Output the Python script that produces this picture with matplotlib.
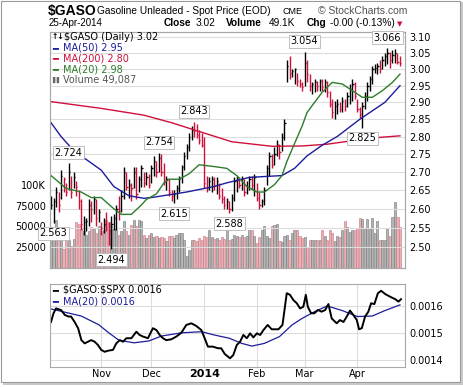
import matplotlib.pyplot as plt
import numpy as np
from matplotlib.ticker import FixedLocator, FormatStrFormatter, NullLocator
from matplotlib.patches import Rectangle

plt.rcParams['text.parse_math'] = False

# ---- data (trading-day index 0 = 4-Oct-2013 ... 139 = 25-Apr-2014) ----
high = [2.635, 2.630, 2.660, 2.645, 2.705, 2.685, 2.670, 2.724, 2.690, 2.700,
        2.675, 2.650, 2.625, 2.580, 2.575, 2.625, 2.620, 2.635, 2.625, 2.600,
        2.565, 2.575, 2.590, 2.565, 2.580, 2.585, 2.610, 2.635, 2.650, 2.715,
        2.700, 2.680, 2.670, 2.715, 2.715, 2.690, 2.720, 2.700, 2.700, 2.695,
        2.720, 2.745, 2.730, 2.754, 2.750, 2.725, 2.690, 2.680, 2.650, 2.650,
        2.665, 2.690, 2.720, 2.755, 2.780, 2.810, 2.830, 2.843, 2.835, 2.820,
        2.810, 2.800, 2.690, 2.685, 2.690, 2.685, 2.685, 2.670, 2.655, 2.635,
        2.630, 2.620, 2.640, 2.685, 2.690, 2.685, 2.690, 2.680, 2.675, 2.690,
        2.690, 2.695, 2.670, 2.645, 2.625, 2.660, 2.720, 2.755, 2.750, 2.770,
        2.790, 2.780, 2.810, 2.850, 3.030, 3.040, 3.000, 3.005, 2.990, 2.970,
        2.960, 3.054, 3.030, 2.985, 2.960, 2.970, 2.965, 2.970, 2.970, 2.970,
        2.965, 2.935, 2.910, 2.905, 2.910, 2.900, 2.915, 2.910, 2.930, 2.955,
        2.970, 2.960, 2.910, 2.885, 2.900, 2.930, 2.960, 2.980, 3.010, 3.015,
        3.020, 3.030, 3.040, 3.050, 3.066, 3.055, 3.060, 3.062, 3.050, 3.040]
low = [2.600, 2.563, 2.605, 2.590, 2.625, 2.645, 2.635, 2.650, 2.630, 2.655,
       2.635, 2.600, 2.545, 2.530, 2.540, 2.555, 2.565, 2.585, 2.555, 2.565,
       2.530, 2.535, 2.540, 2.505, 2.494, 2.545, 2.545, 2.570, 2.590, 2.625,
       2.650, 2.630, 2.620, 2.655, 2.625, 2.645, 2.660, 2.660, 2.665, 2.655,
       2.670, 2.690, 2.685, 2.700, 2.690, 2.665, 2.650, 2.635, 2.620, 2.615,
       2.625, 2.645, 2.670, 2.705, 2.735, 2.760, 2.790, 2.800, 2.795, 2.780,
       2.770, 2.655, 2.645, 2.650, 2.645, 2.650, 2.640, 2.625, 2.615, 2.600,
       2.600, 2.588, 2.595, 2.620, 2.645, 2.655, 2.650, 2.635, 2.640, 2.650,
       2.650, 2.635, 2.620, 2.600, 2.605, 2.610, 2.665, 2.690, 2.710, 2.720,
       2.745, 2.735, 2.760, 2.790, 2.960, 2.970, 2.975, 2.955, 2.950, 2.945,
       2.935, 2.950, 2.960, 2.935, 2.925, 2.930, 2.935, 2.935, 2.935, 2.930,
       2.915, 2.885, 2.855, 2.850, 2.865, 2.870, 2.870, 2.875, 2.885, 2.895,
       2.905, 2.910, 2.870, 2.855, 2.825, 2.880, 2.905, 2.935, 2.955, 2.990,
       2.985, 2.990, 3.000, 3.010, 3.015, 3.005, 3.020, 3.020, 3.015, 3.010]
close = [2.610, 2.620, 2.645, 2.610, 2.690, 2.680, 2.645, 2.700, 2.645, 2.685,
         2.660, 2.620, 2.560, 2.565, 2.568, 2.610, 2.600, 2.625, 2.575, 2.590,
         2.550, 2.560, 2.550, 2.540, 2.560, 2.575, 2.600, 2.595, 2.635, 2.700,
         2.660, 2.665, 2.655, 2.700, 2.640, 2.680, 2.710, 2.670, 2.685, 2.665,
         2.710, 2.730, 2.700, 2.740, 2.700, 2.675, 2.680, 2.645, 2.635, 2.640,
         2.655, 2.680, 2.715, 2.745, 2.770, 2.800, 2.820, 2.815, 2.805, 2.790,
         2.775, 2.670, 2.655, 2.675, 2.680, 2.665, 2.675, 2.635, 2.625, 2.610,
         2.620, 2.600, 2.630, 2.675, 2.680, 2.665, 2.680, 2.645, 2.660, 2.680,
         2.665, 2.685, 2.630, 2.610, 2.620, 2.650, 2.710, 2.745, 2.720, 2.750,
         2.775, 2.755, 2.800, 2.840, 3.010, 2.990, 2.995, 3.000, 2.965, 2.955,
         2.945, 3.020, 2.985, 2.950, 2.955, 2.960, 2.950, 2.965, 2.945, 2.960,
         2.930, 2.895, 2.870, 2.890, 2.895, 2.880, 2.905, 2.890, 2.920, 2.940,
         2.955, 2.920, 2.880, 2.865, 2.890, 2.920, 2.950, 2.970, 3.000, 3.005,
         3.010, 3.000, 3.030, 3.040, 3.050, 3.030, 3.045, 3.050, 3.024, 3.020]
volume_k = [47, 36, 58, 38, 32, 23, 42, 34, 26, 35, 55, 53, 48, 44, 40, 44, 49, 47, 42, 51,
            44, 46, 58, 55, 50, 48, 46, 40, 44, 57, 45, 40, 52, 58, 50, 58, 57, 40, 36, 40,
            42, 37, 38, 36, 37, 36, 32, 38, 38, 36, 40, 42, 42, 34, 14, 22, 34, 34, 32, 36,
            34, 38, 37, 46, 37, 35, 36, 34, 37, 35, 46, 34, 35, 40,
            38, 37, 40, 37, 38, 46, 46, 38, 30, 37, 46, 51, 38, 36, 51, 52, 53, 32, 31, 38,
            40, 34, 42, 46, 46, 38, 36, 37, 24, 34, 34, 34, 34, 34, 46, 38, 34, 46, 42, 32,
            38, 37, 46, 56, 49, 43, 46, 46, 47, 60, 59, 47, 59, 47, 60, 42, 56, 34, 34, 34,
            47, 38, 61, 79, 61, 49.087]

ma200_x = [0, 20, 37, 48, 61, 72, 88, 100, 110, 120, 130, 139]
ma200 = [2.902, 2.882, 2.862, 2.840, 2.810, 2.785, 2.772, 2.773, 2.778, 2.788, 2.797, 2.802]
ma50_x = [0, 4, 9, 15, 20, 25, 31, 37, 40, 54, 65, 70, 79, 92, 97, 102, 108, 114, 123, 133, 139]
ma50 = [2.840, 2.800, 2.760, 2.730, 2.705, 2.660, 2.635, 2.628, 2.630, 2.645, 2.660, 2.670,
        2.685, 2.690, 2.710, 2.745, 2.775, 2.800, 2.850, 2.900, 2.950]
ma20_x = [0, 6, 12, 16, 20, 25, 28, 32, 36, 38, 42, 45, 47, 51, 55, 59, 65, 70, 74, 78,
          82, 85, 89, 92, 94, 97, 100, 102, 105, 108, 112, 116, 120, 124, 128, 132, 136, 139]
ma20 = [2.690, 2.655, 2.645, 2.630, 2.630, 2.600, 2.585, 2.585, 2.610, 2.625, 2.640, 2.670,
        2.680, 2.680, 2.695, 2.720, 2.715, 2.710, 2.690, 2.660, 2.645, 2.645, 2.665, 2.690,
        2.730, 2.780, 2.830, 2.870, 2.900, 2.930, 2.960, 2.955, 2.935, 2.915, 2.915, 2.935,
        2.960, 2.985]

ratio_x = [0, 1, 2, 4, 5.5, 7, 8, 9.4, 10.8, 12.1, 13.4, 14.7, 16, 17.4, 18.7, 20, 21.4, 22.7,
           24.7, 26, 27.4, 28.7, 30, 32, 34, 35.3, 36.7, 38.6, 40.6, 42, 43.3, 44.6, 45.9,
           47.9, 49.9, 51.9, 53.9, 55.9, 57.9, 59.9, 61.2, 62.5, 64.5, 66.5, 67.8, 69.2, 70.5,
           71.3, 72.6, 74, 75.3, 76.6, 78, 79.3, 80.6, 82, 83.3, 84.6, 86.3, 87.9, 90.6, 92.2,
           93, 93.9, 95.2, 96.5, 97.9, 99.2, 100.5, 101.5, 102.3, 103.6, 104.9, 106.3, 107.8,
           109.2, 110.5, 111.8, 113.8, 115.1, 116.5, 117.8, 119.1, 120.4, 121.8, 122.7, 123.8,
           125.1, 126.4, 127.5, 128.8, 130.2, 131.5, 133.1, 135.1, 137.1, 138.4, 139.4]
ratio = [0.001540, 0.001572, 0.001590, 0.001584, 0.001566, 0.001560, 0.001560, 0.001540,
         0.001517, 0.001473, 0.001461, 0.001467, 0.001473, 0.001467, 0.001455, 0.001437,
         0.001430, 0.001434, 0.001437, 0.001461, 0.001473, 0.001467, 0.001480, 0.001480,
         0.001504, 0.001492, 0.001486, 0.001480, 0.001517, 0.001510, 0.001492, 0.001480,
         0.001473, 0.001476, 0.001486, 0.001500, 0.001529, 0.001535, 0.001525, 0.001510,
         0.001480, 0.001449, 0.001449, 0.001443, 0.001443, 0.001422, 0.001412, 0.001406,
         0.001418, 0.001455, 0.001467, 0.001492, 0.001480, 0.001498, 0.001483, 0.001498,
         0.001492, 0.001510, 0.001529, 0.001513, 0.001513, 0.001529, 0.001584, 0.001646,
         0.001640, 0.001621, 0.001609, 0.001590, 0.001596, 0.001640, 0.001596, 0.001572,
         0.001572, 0.001584, 0.001578, 0.001584, 0.001606, 0.001553, 0.001535, 0.001547,
         0.001540, 0.001560, 0.001582, 0.001566, 0.001547, 0.001513, 0.001517, 0.001560,
         0.001578, 0.001609, 0.001606, 0.001646, 0.001655, 0.001643, 0.001633, 0.001624,
         0.001615, 0.001624]
ratio_ma_x = [0, 12, 19, 23, 27, 33, 39, 44, 52, 60, 65, 71, 76, 80, 85, 91, 96, 100, 105,
              110, 116, 122, 128, 133, 139]
ratio_ma = [0.001588, 0.001562, 0.001530, 0.001500, 0.001473, 0.001463, 0.001470, 0.001488,
            0.001500, 0.001504, 0.001492, 0.001480, 0.001461, 0.001451, 0.001461, 0.001486,
            0.001529, 0.001553, 0.001578, 0.001599, 0.001582, 0.001560, 0.001562, 0.001582,
            0.001603]

month_idx = [20, 40, 61, 82, 101, 122]
month_lbl = ['Nov', 'Dec', '2014', 'Feb', 'Mar', 'Apr']
price_ticks = [2.50, 2.55, 2.60, 2.65, 2.70, 2.75, 2.80, 2.85, 2.90, 2.95, 3.00, 3.05, 3.10]
vol_ticks = [25000, 50000, 75000, 100000]
vol_tick_lbl = ['25000', '50000', '75000', '100K']
marks = [(7, 'hi'), (1, 'lo'), (24, 'lo'), (43, 'hi'), (49, 'lo'), (57, 'hi'),
         (71, 'lo'), (101, 'hi'), (124, 'lo'), (134, 'hi')]

# ---- figure ----
W, H = 464, 387
fig = plt.figure(figsize=(W / 100, H / 100), dpi=100)


def fx(x):
    return x / W


def fy(y):
    return 1 - y / H


RED = '#d0103a'
NAVY = '#1c1c9c'
GREEN = '#2b7d2b'
GRID = '#dcdcdc'
EDGE = '#a8a8a8'
n = len(close)
idx = np.arange(n)
up = [True] + [close[i] >= close[i - 1] for i in range(1, n)]
bar_col = ['black' if u else RED for u in up]

ax = fig.add_axes([fx(50), fy(268), 355 / W, 236 / H])
vax = ax.twinx()
ax.set_zorder(vax.get_zorder() + 1)
ax.patch.set_visible(False)

# volume
vcol = ['#b4b4b4' if u else '#eab0b6' for u in up]
vedge = ['#767676' if u else '#c87580' for u in up]
vax.bar(idx, np.array(volume_k) * 1000, width=0.85, color=vcol, edgecolor=vedge, linewidth=0.4)
vax.set_ylim(0, 284000)
vax.yaxis.tick_left()
vax.yaxis.set_major_locator(FixedLocator(vol_ticks))
vax.set_yticklabels(vol_tick_lbl)

# price bars
ax.set_yscale('log')
ax.vlines(idx, low, high, colors=bar_col, linewidth=1.0)
ax.hlines(close, idx, idx + 0.5, colors=bar_col, linewidth=1.0)
ax.plot(ma200_x, ma200, color=RED, lw=1.0)
ax.plot(ma50_x, ma50, color=NAVY, lw=1.0)
ax.plot(ma20_x, ma20, color=GREEN, lw=1.0)
ax.set_ylim(2.4466, 3.117)
ax.yaxis.set_major_locator(FixedLocator(price_ticks))
ax.yaxis.set_minor_locator(NullLocator())
ax.yaxis.set_major_formatter(FormatStrFormatter('%.2f'))
ax.yaxis.tick_right()

for i, side in marks:
    if side == 'hi':
        ax.annotate('%.3f' % high[i], (i, high[i]), xytext=(0, 4), textcoords='offset points',
                    ha='center', va='bottom', fontsize=7, annotation_clip=False,
                    bbox=dict(boxstyle='square,pad=0.15', fc='white', ec='#b4b4b4', lw=0.6))
    else:
        ax.annotate('%.3f' % low[i], (i, low[i]), xytext=(0, -4), textcoords='offset points',
                    ha='center', va='top', fontsize=7, annotation_clip=False,
                    bbox=dict(boxstyle='square,pad=0.15', fc='white', ec='#b4b4b4', lw=0.6))

# ratio panel
rax = fig.add_axes([fx(50), fy(366.7), 355 / W, 82.7 / H])
rax.plot(ratio_ma_x, ratio_ma, color=NAVY, lw=0.9)
rax.plot(ratio_x, ratio, color='black', lw=1.4)
rax.set_ylim(0.001375, 0.00168)
rax.yaxis.set_major_locator(FixedLocator([0.0014, 0.0015, 0.0016]))
rax.yaxis.set_major_formatter(FormatStrFormatter('%.4f'))
rax.yaxis.tick_right()

for a in (ax, vax, rax):
    a.set_xlim(-0.4, 141.0)
    for s in a.spines.values():
        s.set_color(EDGE)
        s.set_linewidth(0.8)
    a.tick_params(length=0, labelsize=7, pad=3)
for a in (ax, rax):
    a.set_xticks(month_idx)
    a.set_xticklabels(month_lbl)
    a.grid(True, color=GRID, lw=0.8)
    for t in a.get_xticklabels():
        if t.get_text() == '2014':
            t.set_fontweight('bold')
            t.set_fontsize(8)
vax.set_xticks([])
ax.tick_params(axis='x', pad=2)
rax.tick_params(axis='x', pad=2)


# legends inside panels
def leg(x, y, sym, txt, col, size=7):
    fig.text(fx(x), fy(y), sym, color=col, fontsize=size, va='center', ha='left')
    fig.text(fx(x + 11), fy(y), txt, color=col, fontsize=7, va='center', ha='left')


fig.text(fx(52), fy(36.5), '\u2191\u2193', fontsize=5.5, va='center', ha='left', fontweight='bold')
fig.text(fx(64), fy(36.5), '$GASO (Daily) 3.02', fontsize=7, va='center', ha='left')
leg(52, 47.7, '\u2501', 'MA(50) 2.95', NAVY)
leg(52, 58.5, '\u2501', 'MA(200) 2.80', RED)
leg(52, 69.3, '\u2501', 'MA(20) 2.98', GREEN)
fig.text(fx(52), fy(80), '\u258c\u258c', color='#666666', fontsize=4.5, va='center', ha='left')
fig.text(fx(63), fy(80), 'Volume 49,087', color='#555555', fontsize=7, va='center', ha='left')
leg(52, 290, '\u2501', '$GASO:$SPX 0.0016', 'black')
leg(52, 301, '\u2501', 'MA(20) 0.0016', NAVY)

# header
HF = 'Liberation Sans'
fig.text(fx(48), fy(10.5), '$GASO', fontsize=10, fontweight='bold', family=HF, va='center')
fig.text(fx(97), fy(10.5), 'Gasoline Unleaded - Spot Price (EOD)', fontsize=7.3, family=HF, va='center')
fig.text(fx(283), fy(11), 'CME', fontsize=6.5, family=HF, va='center')
fig.text(fx(318), fy(11), '\u00a9 StockCharts.com', fontsize=7.5, family=HF, va='center', color='#505050')
fig.text(fx(48.5), fy(23.5), '25-Apr-2014', fontsize=7, family=HF, va='center')
row2 = [(164, 'Close', 'bold'), (196, '3.02', 'normal'), (226, 'Volume', 'bold'),
        (269, '49.1K', 'normal'), (307, 'Chg', 'bold'), (330, '-0.00 (-0.13%)', 'normal')]
for x, t, w in row2:
    fig.text(fx(x), fy(23.5), t, fontsize=7.3, family=HF, fontweight=w, va='center')
fig.text(fx(397), fy(24), '\u25bc', fontsize=5, color=RED, va='center')

# outer frame with shadow
fig.patches.append(Rectangle((fx(1), fy(382)), 459 / W, 381 / H, transform=fig.transFigure,
                             fill=False, ec='#9a9a9a', lw=0.8))
fig.patches.append(Rectangle((fx(461), fy(385)), 2 / W, 383 / H, transform=fig.transFigure,
                             fc='#c8c8c8', ec='none'))
fig.patches.append(Rectangle((fx(3), fy(385)), 460 / W, 2.5 / H, transform=fig.transFigure,
                             fc='#c8c8c8', ec='none'))

fig.savefig('out.png', dpi=100)
